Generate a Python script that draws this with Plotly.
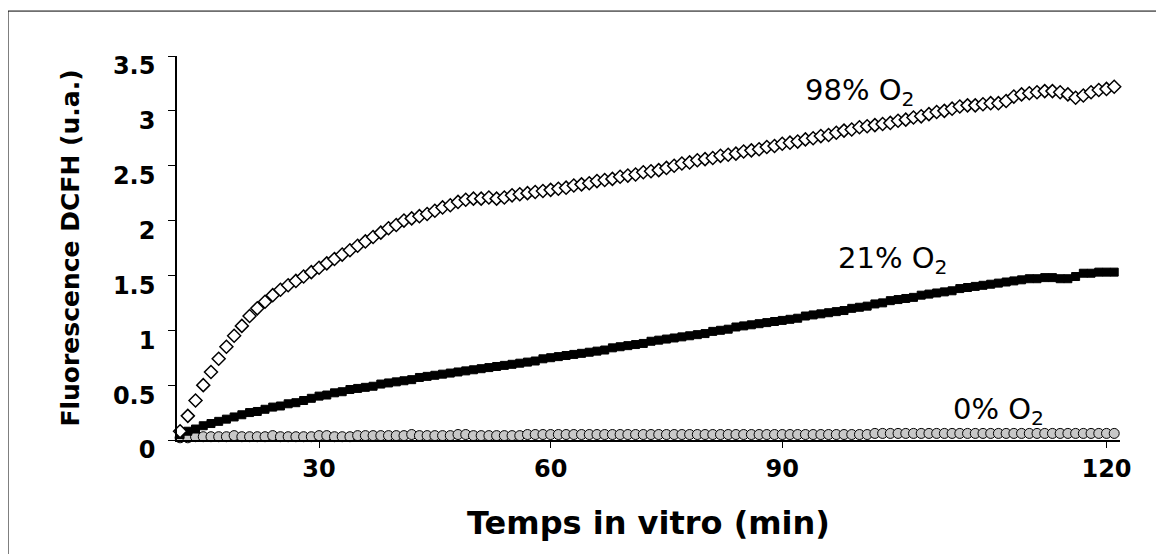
import plotly.graph_objects as go

# time (min)
time_min = list(range(12, 134))

o2_98 = [0.08, 0.22, 0.36, 0.50, 0.62, 0.74, 0.85, 0.95, 1.04, 1.13,
         1.20, 1.26, 1.32, 1.37, 1.41, 1.45, 1.49, 1.53, 1.57, 1.61,
         1.65, 1.69, 1.73, 1.77, 1.81, 1.85, 1.89, 1.93, 1.96, 2.00,
         2.02, 2.04, 2.06, 2.09, 2.12, 2.14, 2.17, 2.19, 2.20, 2.20,
         2.21, 2.20, 2.21, 2.23, 2.24, 2.25, 2.26, 2.27, 2.28, 2.29,
         2.30, 2.32, 2.33, 2.34, 2.36, 2.37, 2.38, 2.40, 2.41, 2.42,
         2.44, 2.45, 2.46, 2.48, 2.50, 2.52, 2.53, 2.55, 2.56, 2.57,
         2.59, 2.60, 2.61, 2.63, 2.64, 2.65, 2.67, 2.68, 2.70, 2.71,
         2.72, 2.74, 2.75, 2.77, 2.78, 2.80, 2.82, 2.83, 2.85, 2.86,
         2.87, 2.88, 2.89, 2.91, 2.92, 2.94, 2.95, 2.97, 2.99, 3.00,
         3.02, 3.04, 3.05, 3.05, 3.06, 3.07, 3.07, 3.09, 3.13, 3.15,
         3.16, 3.17, 3.18, 3.18, 3.17, 3.15, 3.12, 3.14, 3.17, 3.19,
         3.20, 3.22]

o2_21 = [0.05, 0.08, 0.10, 0.13, 0.15, 0.17, 0.19, 0.21, 0.23, 0.25,
         0.26, 0.28, 0.30, 0.31, 0.33, 0.34, 0.36, 0.38, 0.40, 0.41,
         0.43, 0.44, 0.46, 0.47, 0.48, 0.49, 0.51, 0.52, 0.53, 0.54,
         0.55, 0.57, 0.58, 0.59, 0.60, 0.61, 0.62, 0.63, 0.64, 0.65,
         0.66, 0.67, 0.68, 0.69, 0.70, 0.71, 0.72, 0.74, 0.75, 0.76,
         0.77, 0.78, 0.79, 0.80, 0.81, 0.82, 0.84, 0.85, 0.86, 0.87,
         0.88, 0.90, 0.91, 0.92, 0.93, 0.94, 0.95, 0.96, 0.97, 0.99,
         1.00, 1.01, 1.03, 1.04, 1.05, 1.06, 1.07, 1.08, 1.09, 1.10,
         1.11, 1.13, 1.14, 1.15, 1.16, 1.17, 1.18, 1.20, 1.21, 1.22,
         1.24, 1.25, 1.27, 1.28, 1.29, 1.30, 1.32, 1.33, 1.34, 1.35,
         1.36, 1.38, 1.39, 1.40, 1.41, 1.42, 1.43, 1.44, 1.45, 1.46,
         1.47, 1.47, 1.48, 1.48, 1.47, 1.47, 1.49, 1.52, 1.52, 1.53,
         1.53, 1.53]

o2_0 = [0.02, 0.02, 0.03, 0.03, 0.03, 0.03, 0.03, 0.04, 0.03, 0.03,
        0.03, 0.03, 0.04, 0.03, 0.03, 0.03, 0.03, 0.03, 0.04, 0.04,
        0.03, 0.03, 0.03, 0.04, 0.04, 0.04, 0.04, 0.04, 0.04, 0.04,
        0.05, 0.04, 0.04, 0.04, 0.04, 0.04, 0.05, 0.05, 0.04, 0.04,
        0.04, 0.04, 0.04, 0.04, 0.04, 0.05, 0.05, 0.05, 0.05, 0.05,
        0.05, 0.05, 0.05, 0.05, 0.05, 0.05, 0.05, 0.05, 0.05, 0.05,
        0.05, 0.05, 0.05, 0.05, 0.05, 0.05, 0.05, 0.05, 0.05, 0.05,
        0.05, 0.05, 0.05, 0.05, 0.05, 0.05, 0.05, 0.05, 0.05, 0.05,
        0.05, 0.05, 0.05, 0.05, 0.05, 0.05, 0.05, 0.05, 0.05, 0.05,
        0.06, 0.06, 0.06, 0.06, 0.06, 0.06, 0.06, 0.06, 0.06, 0.06,
        0.06, 0.06, 0.06, 0.06, 0.06, 0.06, 0.06, 0.06, 0.06, 0.06,
        0.06, 0.06, 0.06, 0.06, 0.06, 0.06, 0.06, 0.06, 0.06, 0.06,
        0.06, 0.06]

x_tick_positions = [30, 60, 90, 132]
x_tick_labels = ["30", "60", "90", "120"]
y_tick_values = [0, 0.5, 1, 1.5, 2, 2.5, 3, 3.5]
y_tick_labels = ["0", "0.5", "1", "1.5", "2", "2.5", "3", "3.5"]

series_labels = ["98% O<sub>2</sub>", "21% O<sub>2</sub>", "0% O<sub>2</sub>"]
label_x = [100.0, 104.3, 118.0]
label_y = [3.17, 1.64, 0.26]

BOLD = "'DejaVu Sans', Verdana, sans-serif"
PLAIN = "'DejaVu Sans', Verdana, sans-serif"

fig = go.Figure()
fig.add_trace(go.Scatter(
    x=time_min, y=o2_0, mode="markers", name="0% O2",
    marker=dict(symbol="circle", size=10, color="#c8c8c8",
                line=dict(color="black", width=1)),
    cliponaxis=False))
fig.add_trace(go.Scatter(
    x=time_min, y=o2_21, mode="markers", name="21% O2",
    marker=dict(symbol="square", size=8, color="black",
                line=dict(color="black", width=1)),
    cliponaxis=False))
fig.add_trace(go.Scatter(
    x=time_min, y=o2_98, mode="markers", name="98% O2",
    marker=dict(symbol="diamond", size=10, color="white",
                line=dict(color="black", width=1.5)),
    cliponaxis=False))

for txt, xv, yv in zip(series_labels, label_x, label_y):
    fig.add_annotation(x=xv, y=yv, text=txt, showarrow=False,
                       font=dict(family=PLAIN, size=29, color="black"))

# outer chart-area border (right/bottom edges fall outside the picture)
fig.add_shape(type="rect", xref="paper", yref="paper",
              x0=-0.1792, x1=1.2, y0=-0.6, y1=1.117,
              line=dict(color="black", width=1), fillcolor="rgba(0,0,0,0)",
              layer="below")

fig.update_layout(
    width=1156, height=546,
    margin=dict(l=169, r=44, t=48, b=114),
    paper_bgcolor="white", plot_bgcolor="white",
    showlegend=False,
    font=dict(family=BOLD, color="black"),
    xaxis=dict(range=[11.6, 133.75], tickvals=x_tick_positions,
               ticktext=x_tick_labels, ticks="outside", ticklen=6,
               tickwidth=1, tickcolor="black",
               showline=True, linecolor="black", linewidth=1.5,
               showgrid=False, zeroline=False,
               tickfont=dict(family=BOLD, size=24, color="black", weight="bold"),
               title=dict(text="Temps in vitro (min)", standoff=30,
                          font=dict(family=BOLD, size=32, color="black", weight="bold"))),
    yaxis=dict(range=[0, 3.5], tickvals=y_tick_values, ticktext=y_tick_labels,
               ticks="outside", ticklen=7, tickwidth=1, tickcolor="black",
               showline=True, linecolor="black", linewidth=1.5,
               showgrid=False, zeroline=False, ticklabelstandoff=8,
               ticklabelshift=10,
               tickfont=dict(family=BOLD, size=24, color="black", weight="bold"),
               title=dict(text="Fluorescence DCFH (u.a.)", standoff=26,
                          font=dict(family=BOLD, size=25, color="black", weight="bold"))),
)

fig.write_html("out.html")
